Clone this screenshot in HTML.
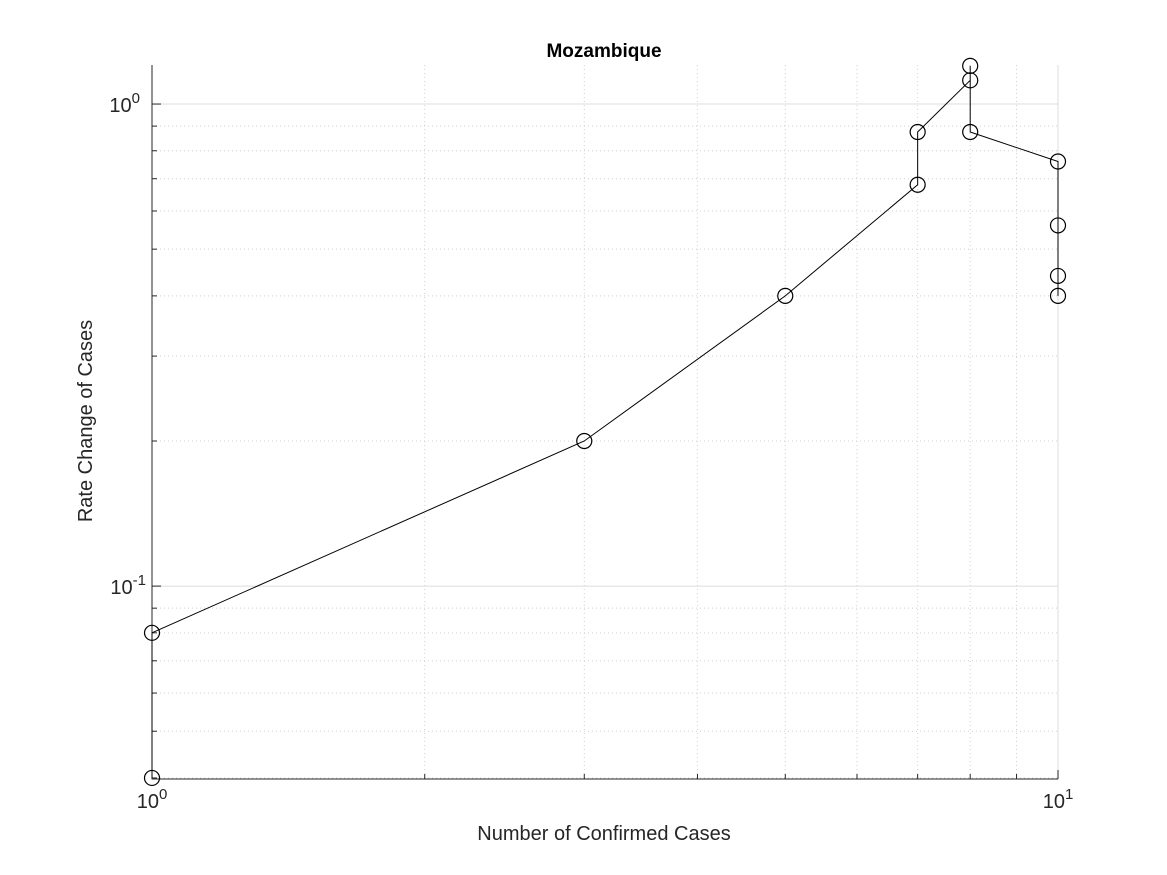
<!DOCTYPE html>
<html><head><meta charset="utf-8"><style>
body{margin:0;background:#fff}
svg{display:block;font-family:"Liberation Sans",sans-serif}
</style></head><body>
<svg id="c" width="1167" height="875"></svg>
<script>
const xs=[1,1,3,5,7,7,8,8,8,10,10,10,10];
const ys=[0.04,0.08,0.2,0.4,0.68,0.875,1.12,1.2,0.875,0.76,0.56,0.44,0.4];
const xTicks=[1,10];
const yTicks=[0.1,1];
const L=152,R=1058,T=65,B=779;
const X0=0,X1=1,Y0=Math.log10(0.0398),Y1=Math.log10(1.205);
const sx=v=>L+(Math.log10(v)-X0)/(X1-X0)*(R-L);
const sy=v=>B-(Math.log10(v)-Y0)/(Y1-Y0)*(B-T);
const svg=document.getElementById('c');
const NS='http://www.w3.org/2000/svg';
function mk(t,a,p){const e=document.createElementNS(NS,t);for(const k in a)e.setAttribute(k,a[k]);(p||svg).appendChild(e);return e;}
const g=mk('g',{});


for(let k=1;k<=10;k++){const x=sx(k);mk('line',{x1:x,x2:x,y1:T,y2:B,stroke:k==1||k==10?'#dcdcdc':'#d0d0d0','stroke-dasharray':k==1||k==10?'':'1,3'},g);if(k>1&&k<10){mk('line',{x1:x,x2:x,y1:B,y2:B-5,stroke:'#262626'});}}
[0.01,0.1,1].forEach(d=>{for(let k=1;k<10;k++){const v=d*k;const y=sy(v);if(y<T-0.5||y>B+0.5)continue;mk('line',{x1:L,x2:R,y1:y,y2:y,stroke:k==1?'#dcdcdc':'#d0d0d0','stroke-dasharray':k==1?'':'1,3'},g);mk('line',{x1:L,x2:L+(k==1?9:5),y1:y,y2:y,stroke:'#262626'});}});
const ax=mk('path',{d:`M${L},${T}V${B}H${R}`,stroke:'#262626',fill:'none','stroke-width':1});


xTicks.forEach((v,i)=>{const x=sx(v);mk('line',{x1:x,x2:x,y1:B,y2:B-9,stroke:'#262626'});
const t=mk('text',{x:x,y:808,'text-anchor':'middle','font-size':20,fill:'#262626'});t.innerHTML='10<tspan dy="-9" font-size="15">'+(Math.round(Math.log10(v)))+'</tspan>';

});
yTicks.forEach(v=>{const y=sy(v);const e=Math.round(Math.log10(v));
const t=mk('text',{x:e<0?146:140,y:y+8,'text-anchor':'end','font-size':20,fill:'#262626'});t.innerHTML='10<tspan dy="-9" font-size="15">'+e+'</tspan>';

});
const pts=xs.map((v,i)=>sx(v)+','+sy(ys[i])).join(' ');
const pl=mk('polyline',{points:pts,fill:'none',stroke:'#000','stroke-width':1});


xs.forEach((v,i)=>{const c=mk('circle',{cx:sx(v),cy:sy(ys[i]),r:7.5,fill:'none',stroke:'#000','stroke-width':1.2});

});
const tt=mk('text',{x:604,y:57,'text-anchor':'middle','font-size':19,'font-weight':'bold',fill:'#000'});tt.textContent='Mozambique';


const xl=mk('text',{x:604,y:840,'text-anchor':'middle','font-size':20,fill:'#262626'});xl.textContent='Number of Confirmed Cases';


const yl=mk('text',{x:0,y:0,transform:'translate(92,421) rotate(-90)','text-anchor':'middle','font-size':20,fill:'#262626'});yl.textContent='Rate Change of Cases';


</script>
</body></html>
